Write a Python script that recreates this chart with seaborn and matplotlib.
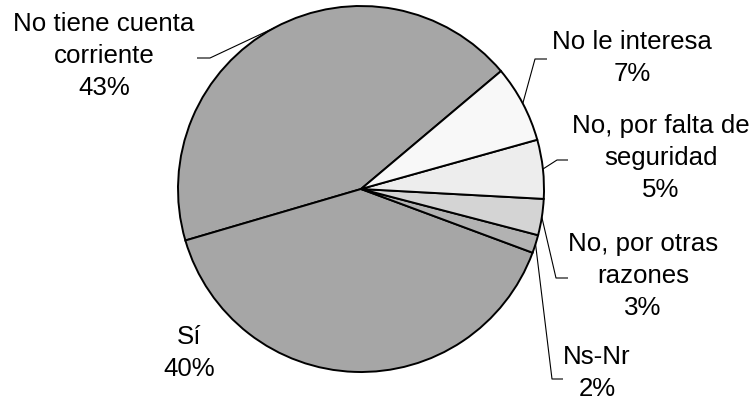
import matplotlib
matplotlib.use("Agg")
import matplotlib.pyplot as plt
import numpy as np
import seaborn as sns

# slice order follows the pie, counter-clockwise from the top-right boundary
LABELS = ["No tiene cuenta\ncorriente", "Sí", "Ns-Nr", "No, por otras\nrazones",
          "No, por falta de\nseguridad", "No le interesa"]
VALUES = [43.4, 39.8, 1.6, 3.2, 5.2, 6.8]
COLORS = ["#a6a6a6", "#a6a6a6", "#b2b2b2", "#d4d4d4", "#ededed", "#f8f8f8"]

W, H = 752, 407
CX, CY, R = 361, H - 189, 183

# text centre (image px) and leader: (start, elbow) in image px, None = no leader
LAYOUT = [
    ((104, 56), ((197, 58), (210, 58))),
    ((189, 353), None),
    ((597, 373), ((563, 379), (552, 379))),
    ((643, 276), ((568, 278), (556, 278))),
    ((661, 158), ((568, 160), (557, 160))),
    ((632, 58), ((547, 59), (535, 59))),
]

sns.set_style("white")
plt.rcParams["font.family"] = ["Liberation Sans", "DejaVu Sans"]

fig = plt.figure(figsize=(W / 100, H / 100), dpi=100)
ax = fig.add_axes([0, 0, 1, 1])
wedges, _ = ax.pie(VALUES, colors=COLORS, startangle=40.1, counterclock=True,
                   center=(CX, CY), radius=R,
                   wedgeprops=dict(edgecolor="black", linewidth=1.4))
ax.set_xlim(0, W)
ax.set_ylim(0, H)
ax.set_aspect("equal")
ax.axis("off")

for w, lab, val, (pos, lead) in zip(wedges, LABELS, VALUES, LAYOUT):
    txt = f"{lab}\n{round(val):d}%"
    ax.text(pos[0], H - pos[1], txt, ha="center", va="center",
            fontsize=18.6, color="black", linespacing=1.42)
    if lead is not None:
        mid = np.deg2rad((w.theta1 + w.theta2) / 2)
        ex, ey = CX + R * np.cos(mid), CY + R * np.sin(mid)
        (sx, sy), (bx, by) = lead
        ax.plot([sx, bx, ex], [H - sy, H - by, ey], color="black", lw=0.8,
                solid_capstyle="butt")

fig.savefig("out.png", dpi=100)
